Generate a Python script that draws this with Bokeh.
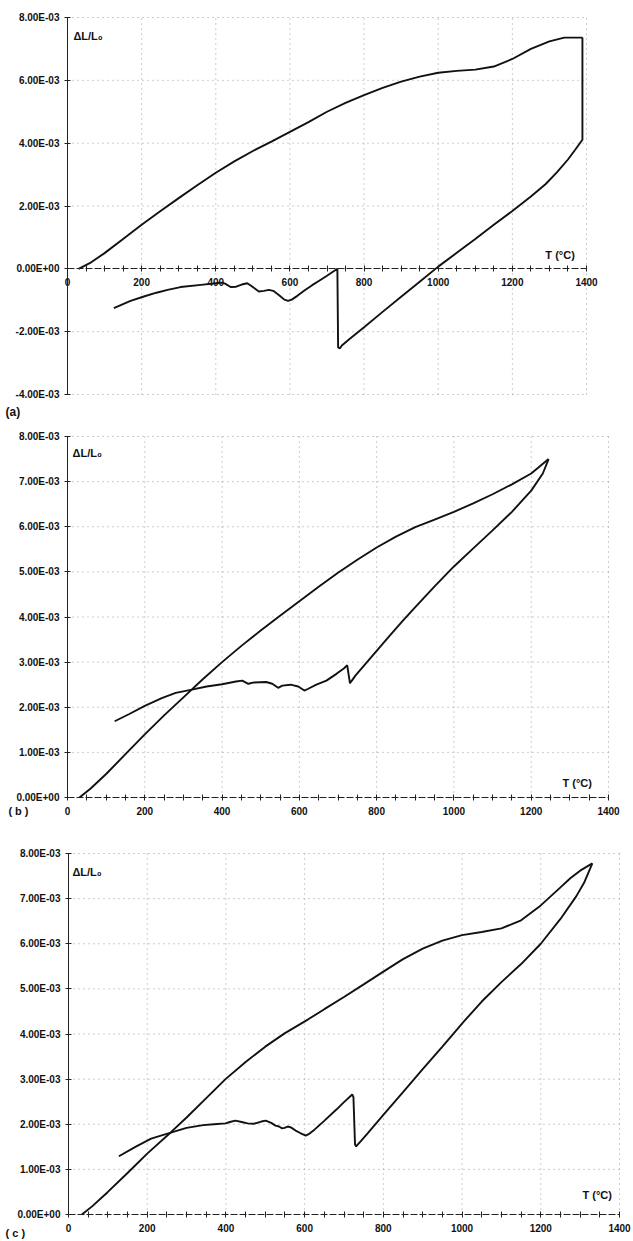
import numpy as np
from bokeh.plotting import figure
from bokeh.layouts import column
from bokeh.models import Range1d, FixedTicker, CustomJSTickFormatter, Label
from bokeh.embed import file_html
from bokeh.resources import INLINE

# ---------------------------------------------------------------
# Dilatometry cycles: temperature (°C) against ΔL/L0 (values in 1e-3)
# ---------------------------------------------------------------
temp_ticks = [0, 200, 400, 600, 800, 1000, 1200, 1400]
temp_minor_step = 50
strain_ticks_a = [-4e-3, -2e-3, 0.0, 2e-3, 4e-3, 6e-3, 8e-3]
strain_ticks_bc = [0.0, 1e-3, 2e-3, 3e-3, 4e-3, 5e-3, 6e-3, 7e-3, 8e-3]

# (a) heating and cooling
heat_a_T = [30, 60, 100, 150, 200, 250, 300, 350, 400, 450, 500, 550, 600, 650,
            700, 750, 800, 850, 900, 950, 1000, 1050, 1100, 1150, 1200, 1250,
            1300, 1340, 1389]
heat_a_dl = [0.00, 0.18, 0.50, 0.95, 1.40, 1.83, 2.25, 2.66, 3.06, 3.42, 3.75,
             4.05, 4.36, 4.67, 5.00, 5.28, 5.53, 5.76, 5.96, 6.12, 6.24, 6.30,
             6.34, 6.44, 6.68, 7.00, 7.24, 7.36, 7.36]
cool_a_T = [1389, 1389, 1370, 1350, 1320, 1290, 1250, 1200, 1150, 1100, 1050,
            1000, 950, 900, 850, 800, 760, 740, 735, 730, 728, 700, 680, 660,
            640, 620, 605, 595, 585, 570, 555, 543, 530, 516, 500, 485, 470,
            455, 440, 425, 417, 400, 360, 305, 270, 240, 206, 170, 125]
cool_a_dl = [7.36, 4.11, 3.80, 3.48, 3.07, 2.70, 2.30, 1.84, 1.40, 0.95, 0.51,
             0.07, -0.41, -0.89, -1.37, -1.86, -2.24, -2.44, -2.53, -2.50, 0.00,
             -0.22, -0.37, -0.52, -0.68, -0.86, -0.98, -1.02, -0.98, -0.83,
             -0.70, -0.67, -0.70, -0.72, -0.58, -0.46, -0.50, -0.57, -0.58,
             -0.47, -0.44, -0.46, -0.51, -0.58, -0.67, -0.76, -0.88, -1.02, -1.25]

# (b) heating and cooling
heat_b_T = [31, 60, 100, 150, 200, 250, 300, 350, 400, 450, 500, 550, 600, 650,
            700, 750, 800, 850, 900, 950, 1000, 1050, 1100, 1150, 1200, 1245]
heat_b_dl = [0.00, 0.20, 0.52, 0.96, 1.40, 1.82, 2.22, 2.62, 3.00, 3.36, 3.70,
             4.03, 4.35, 4.67, 4.98, 5.27, 5.54, 5.78, 5.99, 6.16, 6.33, 6.52,
             6.72, 6.94, 7.18, 7.50]
cool_b_T = [1245, 1230, 1200, 1150, 1100, 1050, 1000, 950, 900, 868, 830, 800,
            770, 745, 735, 731, 727, 724, 715, 696, 670, 644, 623, 613, 597,
            577, 556, 545, 530, 514, 483, 468, 452, 436, 400, 360, 322, 280,
            244, 200, 160, 122]
cool_b_dl = [7.50, 7.18, 6.80, 6.33, 5.92, 5.52, 5.12, 4.68, 4.22, 3.92, 3.55,
             3.25, 2.95, 2.70, 2.58, 2.53, 2.75, 2.93, 2.86, 2.74, 2.59, 2.50,
             2.41, 2.37, 2.46, 2.50, 2.48, 2.43, 2.52, 2.56, 2.55, 2.52, 2.59,
             2.57, 2.51, 2.46, 2.39, 2.32, 2.20, 2.03, 1.85, 1.69]

# (c) heating and cooling
heat_c_T = [34, 60, 100, 150, 200, 261, 300, 350, 399, 450, 500, 550, 608, 650,
            700, 750, 805, 850, 900, 950, 1000, 1050, 1100, 1150, 1200, 1250,
            1275, 1300, 1331]
heat_c_dl = [0.00, 0.18, 0.50, 0.92, 1.35, 1.83, 2.15, 2.58, 3.00, 3.38, 3.72,
             4.02, 4.32, 4.55, 4.82, 5.10, 5.41, 5.66, 5.89, 6.07, 6.19, 6.26,
             6.34, 6.52, 6.85, 7.25, 7.45, 7.62, 7.78]
cool_c_T = [1331, 1310, 1290, 1250, 1200, 1150, 1100, 1050, 1007, 950, 900, 850,
            800, 760, 740, 733, 731, 728, 724, 721, 700, 680, 649, 625, 610, 603,
            590, 577, 565, 557, 549, 542, 535, 526, 515, 501, 490, 470, 455, 440,
            424, 410, 399, 370, 342, 300, 266, 210, 170, 128]
cool_c_dl = [7.78, 7.35, 7.05, 6.55, 6.00, 5.55, 5.15, 4.72, 4.30, 3.72, 3.22,
             2.71, 2.21, 1.80, 1.60, 1.53, 1.51, 1.55, 2.60, 2.66, 2.49, 2.32,
             2.07, 1.88, 1.78, 1.75, 1.80, 1.86, 1.93, 1.95, 1.92, 1.91, 1.95,
             1.97, 2.03, 2.08, 2.06, 2.01, 2.02, 2.05, 2.08, 2.05, 2.02, 2.00,
             1.98, 1.92, 1.83, 1.68, 1.50, 1.29]

FONT = "Liberation Sans"
INK = "#111111"
AXIS = "#222222"
GRID = "#9a9a9a"
PAGE_W = 633

sci_fmt = CustomJSTickFormatter(code="""
const parts = tick.toExponential(2).split("e");
const e = parseInt(parts[1], 10);
const sign = e < 0 ? "-" : "+";
return parts[0] + "E" + sign + String(Math.abs(e)).padStart(2, "0");
""")

temp_minor = [t for t in range(0, 1401, temp_minor_step) if t not in temp_ticks]


def text_label(p, x, y, text, size, align="left", baseline="middle", style="bold"):
    p.add_layout(Label(x=x, y=y, text=text, text_font=FONT, text_font_size=size,
                       text_font_style=style, text_color=INK, text_align=align,
                       text_baseline=baseline))


def make_panel(heat_T, heat_dl, cool_T, cool_dl, y_ticks, height,
               px_t0, px_t1, px_ytop, px_ybot):
    """The frame fills the whole canvas; both axes sit at data zero and are
    bounded to the plotted extent (px_* give where T=0/1400 and the y extremes
    fall on the canvas)."""
    t_lo, t_hi = temp_ticks[0], temp_ticks[-1]
    y_lo, y_hi = y_ticks[0], y_ticks[-1]
    kx = (t_hi - t_lo) / (px_t1 - px_t0)
    ky = (y_hi - y_lo) / (px_ybot - px_ytop)
    x_range = Range1d(t_lo - px_t0 * kx, t_hi + (PAGE_W - px_t1) * kx)
    y_range = Range1d(y_lo - (height - px_ybot) * ky, y_hi + px_ytop * ky)

    p = figure(width=PAGE_W, height=height, x_range=x_range, y_range=y_range,
               output_backend="svg", toolbar_location=None, title=None,
               min_border=0)
    p.outline_line_color = None
    p.background_fill_color = "white"
    p.border_fill_color = "white"
    p.xgrid.visible = False
    p.ygrid.visible = False

    # dotted grid limited to the axes' extent
    p.segment(x0=temp_ticks[1:], y0=y_lo, x1=temp_ticks[1:], y1=y_hi,
              line_color=GRID, line_dash="1 4", line_width=1)
    y_grid = [v for v in y_ticks if v != 0.0]
    p.segment(x0=t_lo, y0=y_grid, x1=t_hi, y1=y_grid,
              line_color=GRID, line_dash="1 4", line_width=1)

    xa = p.xaxis[0]
    xa.fixed_location = 0
    xa.bounds = (t_lo, t_hi)
    xa.ticker = FixedTicker(ticks=temp_ticks, minor_ticks=temp_minor)
    xa.axis_line_color = AXIS
    xa.axis_line_dash = "7 2"
    xa.major_tick_in = 3
    xa.major_tick_out = 3
    xa.minor_tick_in = 3
    xa.minor_tick_out = 3
    xa.major_tick_line_color = AXIS
    xa.minor_tick_line_color = AXIS
    xa.major_label_standoff = 6
    xa.major_label_text_font = FONT
    xa.major_label_text_font_size = "10px"
    xa.major_label_text_font_style = "bold"
    xa.major_label_text_color = INK

    ya = p.yaxis[0]
    ya.fixed_location = 0
    ya.bounds = (y_lo, y_hi)
    ya.ticker = FixedTicker(ticks=y_ticks)
    ya.formatter = sci_fmt
    ya.axis_line_color = AXIS
    ya.major_tick_in = 3
    ya.major_tick_out = 3
    ya.minor_tick_line_color = None
    ya.major_tick_line_color = AXIS
    ya.major_label_standoff = 5
    ya.major_label_text_font = FONT
    ya.major_label_text_font_size = "10px"
    ya.major_label_text_font_style = "bold"
    ya.major_label_text_color = INK

    p.line(heat_T, np.array(heat_dl) * 1e-3, line_width=1.9, color=INK)
    p.line(cool_T, np.array(cool_dl) * 1e-3, line_width=1.9, color=INK)
    return p


pa = make_panel(heat_a_T, heat_a_dl, cool_a_T, cool_a_dl, strain_ticks_a,
                426, 67, 586, 17, 394)
text_label(pa, 16, 7.42e-3, "ΔL/L₀", "11px")
text_label(pa, 1289, 0.45e-3, "T (°C)", "11px")
text_label(pa, -167, -4.55e-3, "(a)", "12px")

pb = make_panel(heat_b_T, heat_b_dl, cool_b_T, cool_b_dl, strain_ticks_bc,
                417, 67, 608, 10, 371)
text_label(pb, 13, 7.63e-3, "ΔL/L₀", "11px")
text_label(pb, 1281, 0.33e-3, "T (°C)", "11px")
text_label(pb, -153, -0.31e-3, "( b )", "11px")

pc = make_panel(heat_c_T, heat_c_dl, cool_c_T, cool_c_dl, strain_ticks_bc,
                398, 68, 619, 10, 371)
text_label(pc, 10, 7.58e-3, "ΔL/L₀", "11px")
text_label(pc, 1306, 0.44e-3, "T (°C)", "11px")
text_label(pc, -160, -0.42e-3, "( c )", "11px")

layout = column(pa, pb, pc)
open("out.html", "w").write(file_html(layout, INLINE))
